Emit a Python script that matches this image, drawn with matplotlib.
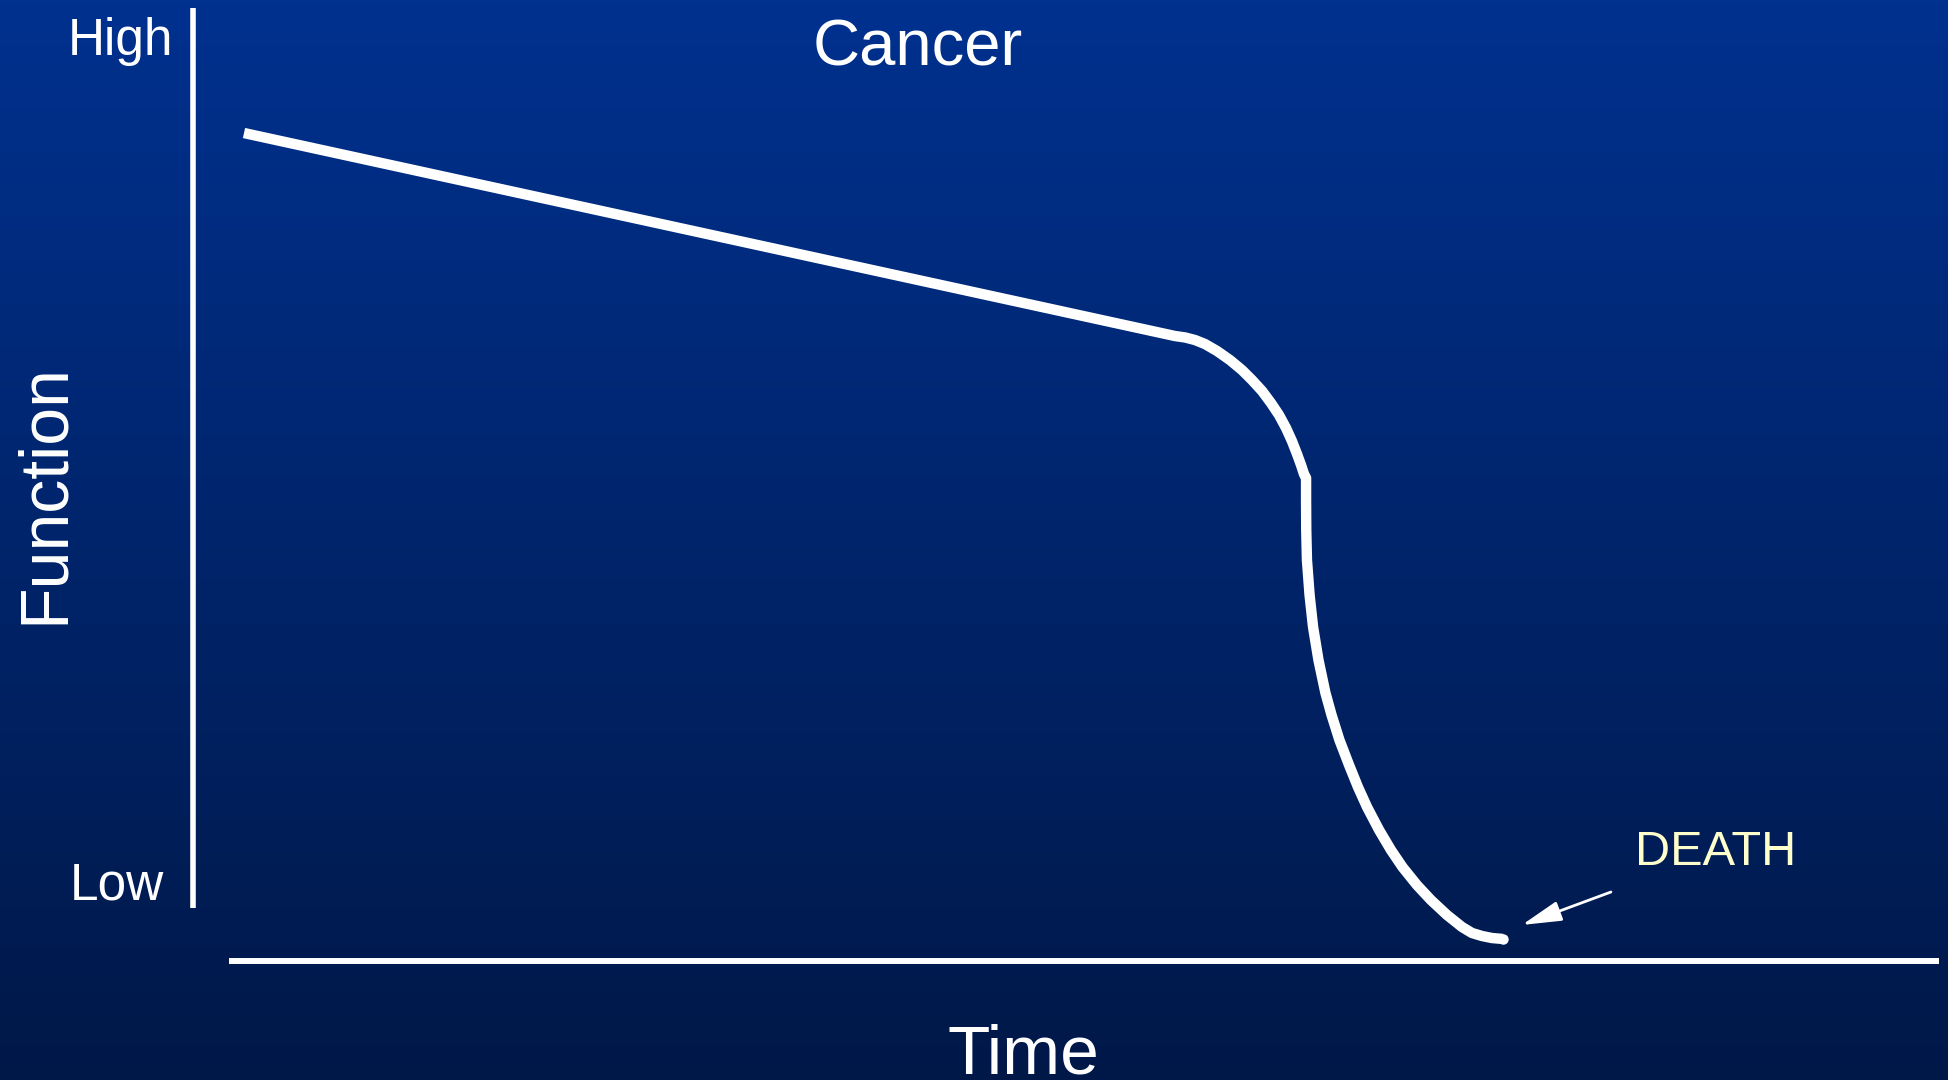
import numpy as np
import matplotlib
matplotlib.use("Agg")
import matplotlib.pyplot as plt

# Function level over time (arbitrary units, 0-100 on both axes)
line_t = [2.92, 56.24]
line_f = [86.88, 65.58]

arc_t = [56.82, 57.39, 57.96, 58.65, 59.39, 60.08, 60.65, 61.23, 61.74, 62.20,
         62.60, 62.94, 63.23, 63.46, 63.63]
arc_f = [65.43, 65.16, 64.74, 64.01, 63.06, 62.01, 60.97, 59.81, 58.55, 57.29,
         55.93, 54.56, 53.20, 52.05, 51.10]

drop_t = [63.75, 63.75, 63.76, 63.80, 63.95, 64.15, 64.46, 64.86, 65.21, 65.66,
          66.21, 66.72, 67.24, 67.93, 68.61, 69.27, 70.10, 70.90, 71.82, 72.68,
          73.25, 73.83, 74.40, 75.03]
drop_f = [50.68, 48.37, 45.23, 42.08, 38.41, 35.05, 31.58, 28.12, 25.81, 23.19,
          20.57, 18.26, 16.16, 13.75, 11.65, 9.86, 7.97, 6.40, 4.83, 3.57,
          2.94, 2.62, 2.41, 2.31]

death_tip = (76.11, 3.78)
death_tail = (81.21, 7.24)

bg_top = "#00318F"
bg_bottom = "#001848"
white = "white"
font = "Liberation Sans"

fig = plt.figure(figsize=(19.49, 10.8), dpi=100)

# gradient background
bg = fig.add_axes([0, 0, 1, 1])
grad = np.linspace(0, 1, 256).reshape(-1, 1)
cmap = matplotlib.colors.LinearSegmentedColormap.from_list("bg", [bg_top, bg_bottom])
bg.imshow(grad, aspect="auto", cmap=cmap, extent=[0, 1, 0, 1])
bg.axis("off")

W, H = 1949, 1080
ax = fig.add_axes([193 / W, (H - 961) / H, (1939 - 193) / W, (961 - 8) / H])
ax.patch.set_alpha(0)
ax.set_xlim(0, 100)
ax.set_ylim(0, 100)
ax.axis("off")

# axes lines
ax.plot([0, 0], [5.56, 100], color=white, lw=4.0, solid_capstyle="butt", clip_on=False)
ax.plot([2.06, 100], [0, 0], color=white, lw=4.3, solid_capstyle="butt", clip_on=False)

# curve
t = line_t + arc_t + drop_t
f = line_f + arc_f + drop_f
ax.plot(t, f, color=white, lw=7.5, solid_capstyle="butt", solid_joinstyle="round")
ax.plot(t[-1:], f[-1:], "o", color=white, ms=7.5, mew=0)

# DEATH arrow
ax.annotate("", xy=death_tip, xytext=death_tail,
            arrowprops=dict(arrowstyle="-|>,head_length=1.1,head_width=0.28",
                            color=white, lw=2.0, mutation_scale=22,
                            shrinkA=0, shrinkB=0))
ax.text(82.6, 10.08, "DEATH", color="#FFFFCC", fontsize=35, family=font,
        ha="left", va="baseline")

# labels
fig.text(918 / W, 1 - 65 / H, "Cancer", color=white, fontsize=47, family=font,
         ha="center", va="baseline")
fig.text(173 / W, 1 - 55 / H, "High", color=white, fontsize=37, family=font,
         ha="right", va="baseline")
fig.text(70 / W, 1 - 900 / H, "Low", color=white, fontsize=37, family=font,
         ha="left", va="baseline")
fig.text(1023 / W, 1 - 1073 / H, "Time", color=white, fontsize=50, family=font,
         ha="center", va="baseline")
fig.text(45 / W, 1 - 494 / H, "Function", color=white, fontsize=49, family=font,
         rotation=90, ha="center", va="center")

fig.savefig("out.png", dpi=100)
